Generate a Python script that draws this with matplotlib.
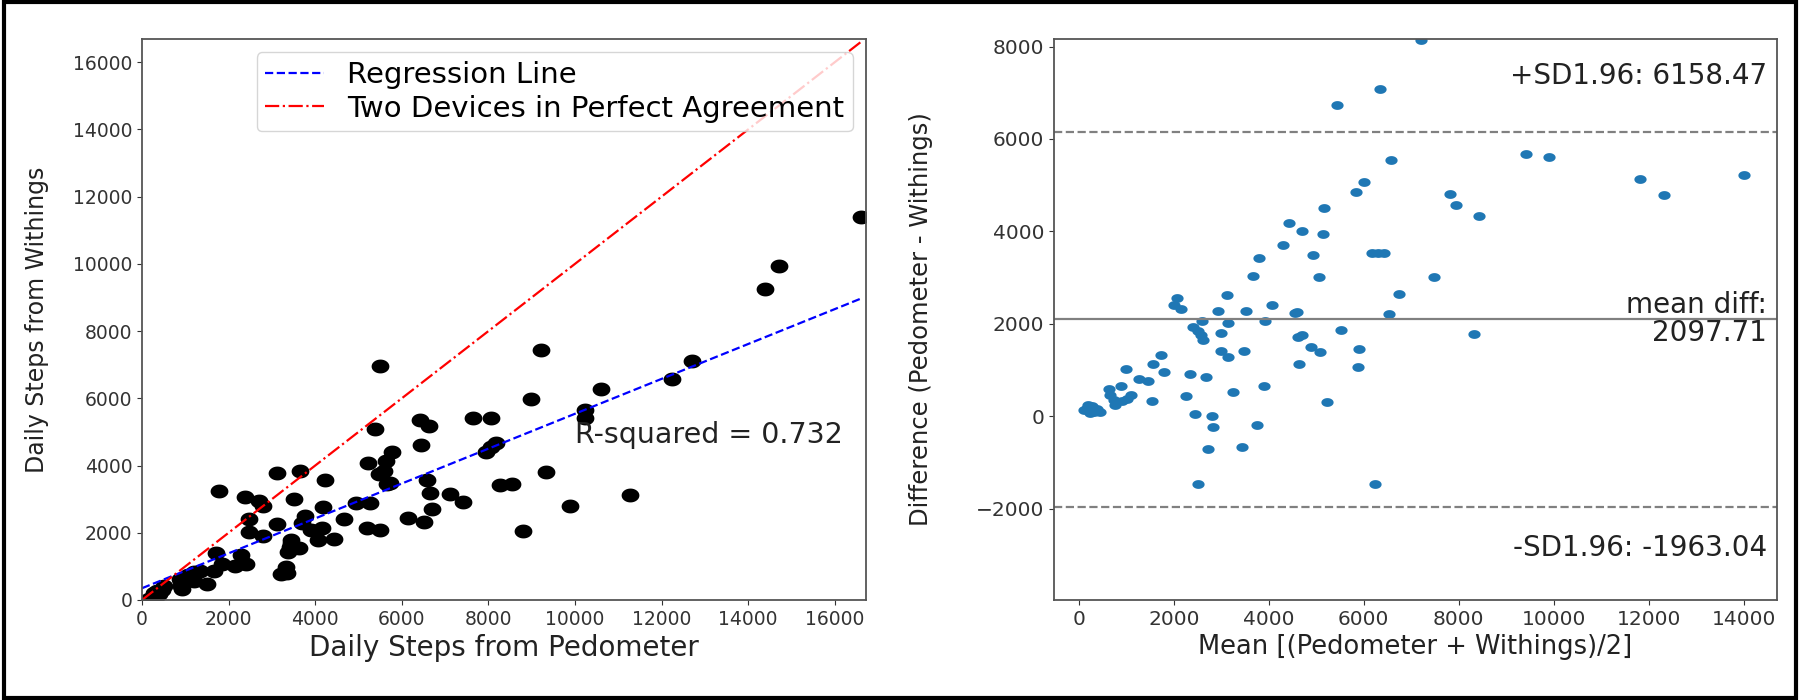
import numpy as np
import matplotlib
matplotlib.use("Agg")
import matplotlib.pyplot as plt
from matplotlib.path import Path
from matplotlib.patches import Rectangle

# Bland-Altman readings: mean of the two devices and their difference
mean_steps = [
    7195, 6336, 5429, 9407, 9903, 6566, 11826, 14002, 12322, 5998,
    5841, 7823, 7944, 8428, 5163, 4426, 4704, 5139, 4293, 4921,
    3785, 3664, 5066, 6179, 6300, 6421, 7473, 6747, 3120, 2068,
    1995, 2152, 2926, 3531, 4075, 4547, 4600, 6530, 3918, 2588,
    3144, 2406, 2503, 2576, 2612, 2999, 5526, 4607, 4704, 8319,
    4885, 5079, 5901, 2987, 3132, 3470, 1741, 1572, 1802, 2346,
    2684, 4643, 5877, 991, 1262, 1457, 885, 629, 3906, 3253,
    2249, 1548, 5224, 2443, 2805, 2817, 3748, 2721, 3446, 2515,
    6227, 663, 733, 754, 909, 1014, 1099, 172, 277, 102,
    312, 453, 242, 200, 380,
]
diff_steps = [
    8145, 7092, 6744, 5681, 5614, 5536, 5130, 5227, 4783, 5072,
    4860, 4802, 4560, 4329, 4502, 4184, 4000, 3952, 3700, 3478,
    3420, 3043, 3014, 3527, 3527, 3527, 3014, 2647, 2618, 2551,
    2415, 2328, 2270, 2270, 2396, 2222, 2250, 2213, 2068, 2058,
    2019, 1932, 1845, 1749, 1652, 1807, 1855, 1720, 1749, 1778,
    1488, 1382, 1459, 1411, 1285, 1401, 1333, 1130, 957, 908,
    850, 1130, 1072, 1024, 805, 770, 650, 580, 647, 522,
    425, 329, 300, 48, 0, -232, -193, -705, -676, -1478,
    -1459, 465, 357, 249, 321, 372, 465, 177, 227, 126,
    90, 90, 69, 230, 150,
]

# fitted line as shown in the figure
reg_intercept = 350
reg_slope = 0.519
r_squared = 0.732
mean_diff = 2097.71
sd_upper = 6158.47
sd_lower = -1963.04

mean_steps = np.array(mean_steps, dtype=float)
diff_steps = np.array(diff_steps, dtype=float)
pedometer = mean_steps + diff_steps / 2
withings = mean_steps - diff_steps / 2


def ellipse_marker(aspect):
    # the source image is stretched sideways, so the dots are oval
    t = np.linspace(0, 2 * np.pi, 64)
    verts = np.column_stack([np.cos(t), aspect * np.sin(t)])
    return Path(verts, closed=True)


fig = plt.figure(figsize=(18, 7), dpi=100)
ax1 = fig.add_axes([0.0789, 0.1429, 0.4022, 0.8014])
ax2 = fig.add_axes([0.5856, 0.1429, 0.4016, 0.8014])

# left: scatter with regression and identity lines
x_max = pedometer.max()
xs = np.array([0, x_max])
ax1.plot(pedometer, withings, linestyle="none", marker=ellipse_marker(0.78),
         markersize=12.8, color="black", markeredgewidth=0)
ax1.plot(xs, reg_intercept + reg_slope * xs, "b--", lw=1.6, label="Regression Line")
ax1.plot(xs, xs, "r-.", lw=1.6, label="Two Devices in Perfect Agreement")
ax1.set_xlim(0, 16720)
ax1.set_ylim(0, 16690)
ax1.set_xticks(np.arange(0, 16001, 2000))
ax1.set_yticks(np.arange(0, 16001, 2000))
ax1.tick_params(labelsize=13.5, colors="#333333")
ax1.set_xlabel("Daily Steps from Pedometer", fontsize=20, color="#222222")
ax1.set_ylabel("Daily Steps from Withings", fontsize=17, color="#222222")
ax1.yaxis.set_label_coords(-0.129, 0.5)
ax1.text(10000, 4900, f"R-squared = {r_squared}", fontsize=20.5,
         va="center", ha="left", color="#222222")
ax1.legend(loc="upper right", fontsize=21, handlelength=2.0,
           labelspacing=0.2, borderpad=0.3, borderaxespad=0.45)

# right: Bland-Altman plot
ax2.plot(mean_steps, diff_steps, linestyle="none", marker=ellipse_marker(0.72),
         markersize=8.8, color="#1f77b4", markeredgewidth=0)
ax2.axhline(mean_diff, color="gray", lw=1.6)
ax2.axhline(sd_upper, color="gray", lw=1.6, linestyle="--")
ax2.axhline(sd_lower, color="gray", lw=1.6, linestyle="--")
ax2.set_xlim(-520, 14700)
ax2.set_ylim(-3980, 8164)
ax2.set_xticks(np.arange(0, 14001, 2000))
ax2.set_yticks(np.arange(-2000, 8001, 2000))
ax2.tick_params(labelsize=14.5, colors="#333333")
ax2.set_xlabel("Mean [(Pedometer + Withings)/2]", fontsize=18.5, color="#222222")
ax2.set_ylabel("Difference (Pedometer - Withings)", fontsize=17.5, color="#222222")
ax2.yaxis.set_label_coords(-0.167, 0.5)
ax2.text(0.986, 0.934, f"+SD1.96: {sd_upper:.2f}", transform=ax2.transAxes,
         ha="right", va="center", fontsize=20, color="#222222")
ax2.text(0.986, 0.5005, f"mean diff:\n{mean_diff:.2f}", transform=ax2.transAxes,
         ha="right", va="center", fontsize=20, linespacing=1.0, color="#222222")
ax2.text(0.986, 0.093, f"-SD1.96: {sd_lower:.2f}", transform=ax2.transAxes,
         ha="right", va="center", fontsize=20, color="#222222")

for ax in (ax1, ax2):
    for sp in ax.spines.values():
        sp.set_color("#555555")
        sp.set_linewidth(1.3)

fig.patches.append(Rectangle((0.002, 0.003), 0.996, 0.994, transform=fig.transFigure,
                             fill=False, edgecolor="black", lw=3))

fig.savefig("out.png", dpi=100)
